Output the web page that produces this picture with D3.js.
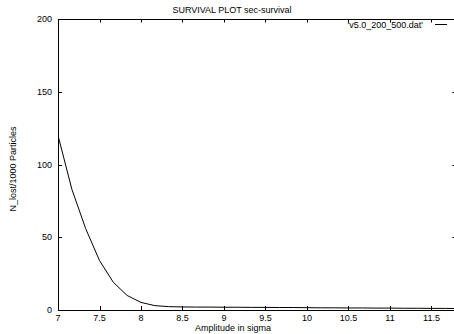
<!DOCTYPE html>
<html>
<head>
<meta charset="utf-8">
<script src="https://cdn.jsdelivr.net/npm/d3@7"></script>
<style>
  body { margin: 0; background: #fff; }
  text { font-family: "Liberation Sans", Arial, sans-serif; font-size: 9px; fill: #000; }
</style>
</head>
<body>
<svg id="chart" width="454" height="334"></svg>
<script>
// amplitude (sigma) and particles lost per 1000
const amplitude = [7.000, 7.167, 7.333, 7.500, 7.667, 7.833, 8.000, 8.167, 8.333, 8.500,
                   8.667, 8.833, 9.000, 9.167, 9.333, 9.500, 9.667, 9.833, 10.000, 10.167,
                   10.333, 10.500, 10.667, 10.833, 11.000, 11.167, 11.333, 11.500, 11.667, 11.833];
const nLost = [120, 83, 56, 34, 19, 10, 5.2, 3.0, 2.3, 2.1,
               2.0, 2.0, 1.9, 1.9, 1.8, 1.8, 1.7, 1.7, 1.6, 1.5,
               1.5, 1.4, 1.4, 1.3, 1.3, 1.2, 1.2, 1.1, 1.1, 1.0];
const xTicks = [7, 7.5, 8, 8.5, 9, 9.5, 10, 10.5, 11, 11.5];
const yTicks = [0, 50, 100, 150, 200];

const title = "SURVIVAL PLOT sec-survival";
const xLabel = "Amplitude in sigma";
const yLabel = "N_lost/1000 Particles";
const seriesName = "'v5.0_200_500.dat'";

const svg = d3.select("svg");

const plotLeft = 58, plotRight = 456.4, plotTop = 19, plotBottom = 310;

const x = d3.scaleLinear().domain([7, 11.8]).range([plotLeft, plotRight]);
const y = d3.scaleLinear().domain([0, 200]).range([plotBottom, plotTop]);

// data line (drawn first so border sits on top)
const line = d3.line()
    .x((d, i) => x(amplitude[i]))
    .y(d => y(d));

svg.append("defs").append("clipPath").attr("id", "clip")
    .append("rect").attr("x", plotLeft).attr("y", plotTop)
    .attr("width", plotRight - plotLeft).attr("height", plotBottom - plotTop);

svg.append("path")
    .datum(nLost)
    .attr("clip-path", "url(#clip)")
    .attr("d", line)
    .attr("fill", "none")
    .attr("stroke", "#000")
    .attr("stroke-width", 1);

// ticks, gnuplot style (inward, mirrored)
const ticks = svg.append("g").attr("stroke", "#000").attr("stroke-width", 1);
xTicks.forEach(function (t) {
    const px = Math.round(x(t)) + 0.5;
    ticks.append("line").attr("x1", px).attr("x2", px).attr("y1", plotBottom).attr("y2", plotBottom - 4);
    ticks.append("line").attr("x1", px).attr("x2", px).attr("y1", plotTop).attr("y2", plotTop + 3.5);
});
yTicks.forEach(function (t) {
    const py = Math.round(y(t)) + 0.5;
    ticks.append("line").attr("x1", plotLeft).attr("x2", plotLeft + 4).attr("y1", py).attr("y2", py);
    ticks.append("line").attr("x1", plotRight).attr("x2", plotRight - 4).attr("y1", py).attr("y2", py);
});

// border
svg.append("rect")
    .attr("x", plotLeft + 0.5).attr("y", plotTop + 0.5)
    .attr("width", plotRight - plotLeft).attr("height", plotBottom - plotTop)
    .attr("fill", "none").attr("stroke", "#000").attr("stroke-width", 1);

// tick labels
svg.append("g").selectAll("text")
    .data(xTicks).enter().append("text")
    .attr("x", d => x(d))
    .attr("y", 321)
    .attr("text-anchor", "middle")
    .text(d => d);

svg.append("g").selectAll("text")
    .data(yTicks).enter().append("text")
    .attr("x", 52)
    .attr("y", d => y(d) + 3)
    .attr("text-anchor", "end")
    .text(d => d);

// titles
svg.append("text").attr("x", 232).attr("y", 13).attr("text-anchor", "middle").text(title);
svg.append("text").attr("x", 233).attr("y", 330.5).attr("text-anchor", "middle").text(xLabel);
svg.append("text")
    .attr("transform", "translate(16,169) rotate(-90)")
    .attr("text-anchor", "middle")
    .text(yLabel);

// legend
svg.append("text").attr("x", 423).attr("y", 28).attr("text-anchor", "end").text(seriesName);
svg.append("line")
    .attr("x1", 435).attr("x2", 447).attr("y1", 24.5).attr("y2", 24.5)
    .attr("stroke", "#000").attr("stroke-width", 1);
</script>
</body>
</html>
